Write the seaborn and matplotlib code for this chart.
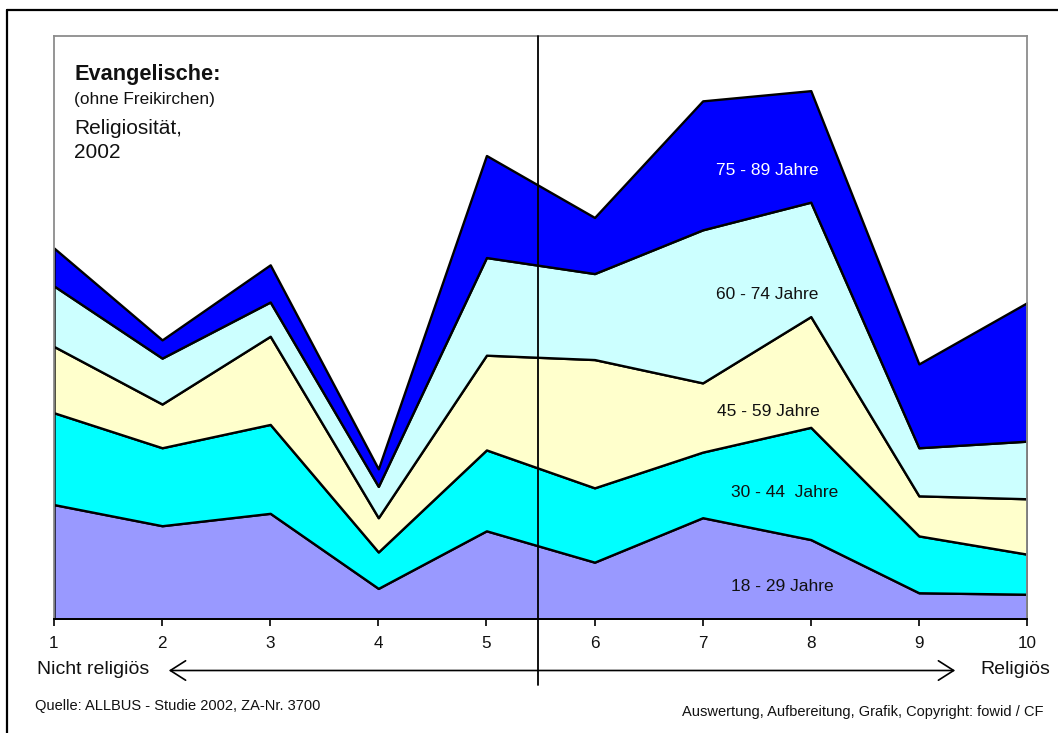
import matplotlib
matplotlib.use("Agg")
import matplotlib.pyplot as plt
from matplotlib.lines import Line2D
from matplotlib.patches import FancyArrowPatch
import seaborn as sns
import pandas as pd

# Religiosität-Skala 1 (nicht religiös) bis 10 (religiös), Anteile in % je Altersgruppe
skala = [1, 2, 3, 4, 5, 6, 7, 8, 9, 10]
gruppen = ["18 - 29 Jahre", "30 - 44  Jahre", "45 - 59 Jahre", "60 - 74 Jahre", "75 - 89 Jahre"]
alter_18_29 = [15.7, 12.8, 14.5, 4.2, 12.1, 7.8, 13.9, 10.9, 3.6, 3.4]
alter_30_44 = [12.6, 10.7, 12.2, 5.0, 11.1, 10.2, 9.0, 15.4, 7.8, 5.5]
alter_45_59 = [9.1, 6.0, 12.1, 4.7, 13.0, 17.6, 9.5, 15.2, 5.5, 7.6]
alter_60_74 = [8.3, 6.3, 4.7, 4.3, 13.4, 11.8, 21.0, 15.7, 6.6, 7.9]
alter_75_89 = [5.2, 2.5, 5.1, 2.4, 14.0, 7.7, 17.7, 15.3, 11.5, 19.0]
farben = ["#9999FF", "#00FFFF", "#FFFFCC", "#CCFFFF", "#0000FF"]
text_farben = ["#111111", "#111111", "#111111", "#111111", "white"]

df = pd.DataFrame({
    "skala": skala,
    gruppen[0]: alter_18_29,
    gruppen[1]: alter_30_44,
    gruppen[2]: alter_45_59,
    gruppen[3]: alter_60_74,
    gruppen[4]: alter_75_89,
})

sns.set_theme(style="white")
plt.rcParams["font.family"] = ["Liberation Sans", "DejaVu Sans"]

W, H = 1058, 733
fig = plt.figure(figsize=(W / 100, H / 100), dpi=100)
ax = fig.add_axes([54 / W, 1 - 619 / H, (1027 - 54) / W, (619 - 36) / H])

ax.stackplot(df["skala"], *[df[g] for g in gruppen], colors=farben,
             edgecolor="black", linewidth=1.7)

ax.set_xlim(1, 10)
ax.set_ylim(0, 80)
ax.set_xticks(skala)
ax.set_yticks([])
ax.set_xlabel("")
ax.set_ylabel("")
ax.tick_params(axis="x", direction="out", length=5, width=1.2, color="black",
               labelsize=12.3, pad=7, bottom=True, labelcolor="#111111")
for s in ["top", "left", "right"]:
    ax.spines[s].set_color("#8c8c8c")
    ax.spines[s].set_linewidth(1.3)
ax.spines["bottom"].set_color("black")
ax.spines["bottom"].set_linewidth(1.4)

# Trennlinie
ax.axvline(5.48, ymin=-0.113, ymax=1, color="black", linewidth=1.3, clip_on=False, zorder=5)

# Beschriftung der Flächen
label_pos = [(7.735, 4.5), (7.762, 17.3), (7.605, 28.5), (7.596, 44.5), (7.596, 61.5)]
for g, (lx, ly), c in zip(gruppen, label_pos, text_farben):
    ax.text(lx, ly, g, color=c, fontsize=12.5, ha="center", va="center")


def ftext(x, y, s, **kw):
    fig.text(x / W, 1 - y / H, s, **kw)


# Titel im Diagramm
ftext(74, 80, "Evangelische:", fontsize=15.7, fontweight="bold", va="baseline", color="#111111")
ftext(74, 104, "(ohne Freikirchen)", fontsize=12.4, va="baseline", color="#111111")
ftext(74, 134, "Religiosität,", fontsize=15, va="baseline", color="#111111")
ftext(74, 158, "2002", fontsize=15, va="baseline", color="#111111")

# Pfeil und Achsenbeschriftung
ftext(37, 670, "Nicht religiös", fontsize=14, va="center", color="#111111")
ftext(980, 670, "Religiös", fontsize=14, va="center", color="#111111")
pfeil = FancyArrowPatch((166 / W, 1 - 670.5 / H), (958 / W, 1 - 670.5 / H),
                        transform=fig.transFigure,
                        arrowstyle="<->,head_length=0.55,head_width=0.35",
                        mutation_scale=20, color="black", linewidth=1.2)
fig.add_artist(pfeil)

# Quelle
ftext(35, 706, "Quelle: ALLBUS - Studie 2002, ZA-Nr. 3700", fontsize=10.5,
      va="center", color="#111111")
ftext(1043, 712, "Auswertung, Aufbereitung, Grafik, Copyright: fowid / CF", fontsize=10.5,
      va="center", ha="right", color="#111111")

# Rahmen
fig.add_artist(Line2D([7 / W, 1], [1 - 10 / H, 1 - 10 / H], color="black", linewidth=1.6,
                      transform=fig.transFigure))
fig.add_artist(Line2D([7 / W, 7 / W], [1 - 10 / H, 0], color="black", linewidth=1.6,
                      transform=fig.transFigure))

fig.savefig("out.png", dpi=100)
